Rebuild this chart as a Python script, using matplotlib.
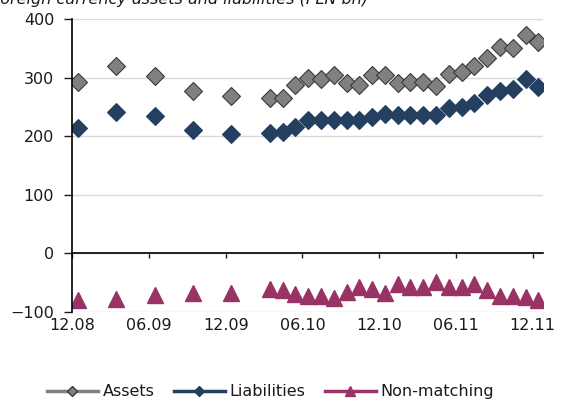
# Foreign currency assets and liabilities (PLN bn)
import numpy as np
import matplotlib
matplotlib.use('Agg')
import matplotlib.pyplot as plt
from matplotlib.lines import Line2D

FONT_SIZE = 11.5
plt.rc('font', family='DejaVu Sans', size=FONT_SIZE)

# data (quarterly until 12.09, monthly afterwards)
periods = ['12.08', '03.09', '06.09', '09.09', '12.09',
           '03.10', '04.10', '05.10', '06.10', '07.10', '08.10', '09.10',
           '10.10', '11.10', '12.10', '01.11', '02.11', '03.11', '04.11',
           '05.11', '06.11', '07.11', '08.11', '09.11', '10.11', '11.11', '12.11']
assets = [292, 319, 302, 278, 268,
          265, 266, 288, 300, 297, 304, 290,
          288, 304, 304, 290, 293, 293, 285,
          307, 310, 320, 334, 352, 350, 373, 360]
liabilities = [214, 242, 234, 211, 204,
               205, 207, 216, 227, 227, 227, 228,
               228, 233, 238, 237, 236, 236, 237,
               248, 250, 256, 270, 278, 280, 297, 284]
non_matching = [-80, -77, -71, -67, -67,
                -60, -63, -70, -73, -73, -76, -65,
                -58, -61, -68, -53, -58, -58, -48,
                -58, -58, -52, -63, -73, -73, -75, -79]
tick_labels = ['12.08', '06.09', '12.09', '06.10', '12.10', '06.11', '12.11']


def month_index(p):
    m, y = p.split('.')
    return (int(y) - 8) * 12 + int(m) - 12


x = np.array([month_index(p) for p in periods]) + 0.45
xticks = [month_index(p) for p in tick_labels]

c_assets = '#808080'
c_liab = '#243F60'
c_nonm = '#993366'
txt = '#1a1a1a'

fig = plt.figure(figsize=(5.66, 4.05), dpi=100)
ax = fig.add_axes([0.1277, 0.2296, 0.959 - 0.1277, 0.953 - 0.2296])

ax.plot(x, assets, linestyle='none', marker='D', markersize=9.5,
        markerfacecolor=c_assets, markeredgecolor='#3a3a3a', markeredgewidth=0.8)
ax.plot(x, liabilities, linestyle='none', marker='D', markersize=9.5,
        markerfacecolor=c_liab, markeredgecolor=c_liab, markeredgewidth=0.8)
ax.plot(x, non_matching, linestyle='none', marker='^', markersize=11,
        markerfacecolor=c_nonm, markeredgecolor=c_nonm)

ax.set_xlim(0, 36.8)
ax.set_ylim(-100, 400)
ax.set_yticks(range(-100, 401, 100))
ax.set_xticks(xticks)
ax.set_xticklabels(tick_labels)

ax.grid(axis='y', color='#d9d9d9', linewidth=1)
ax.set_axisbelow(True)
for s in ['top', 'right']:
    ax.spines[s].set_visible(False)
ax.spines['bottom'].set_position(('data', 0))
ax.spines['bottom'].set_linewidth(1.2)
ax.spines['left'].set_linewidth(1.2)

ax.tick_params(axis='y', direction='out', length=6, width=1, pad=7, colors=txt)
ax.tick_params(axis='x', direction='out', length=3.5, width=1, pad=43, colors=txt)

# title, cut off by the top edge as in the source
fig.text(-0.016, 0.99, 'Foreign currency assets and liabilities (PLN bn)',
         fontstyle='italic', color=txt, va='baseline', ha='left')

handles = [
    Line2D([], [], color=c_assets, linewidth=2.5, marker='D', markersize=5,
           markerfacecolor=c_assets, markeredgecolor='#3a3a3a'),
    Line2D([], [], color=c_liab, linewidth=2.5, marker='D', markersize=5),
    Line2D([], [], color=c_nonm, linewidth=2.5, marker='^', markersize=7),
]
fig.legend(handles, ['Assets', 'Liabilities', 'Non-matching'], loc='center',
           bbox_to_anchor=(0.478, 0.033), ncol=3, frameon=False,
           handlelength=3.2, columnspacing=1.2, handletextpad=0.3,
           labelcolor=txt)

fig.savefig('out.png', dpi=100)
